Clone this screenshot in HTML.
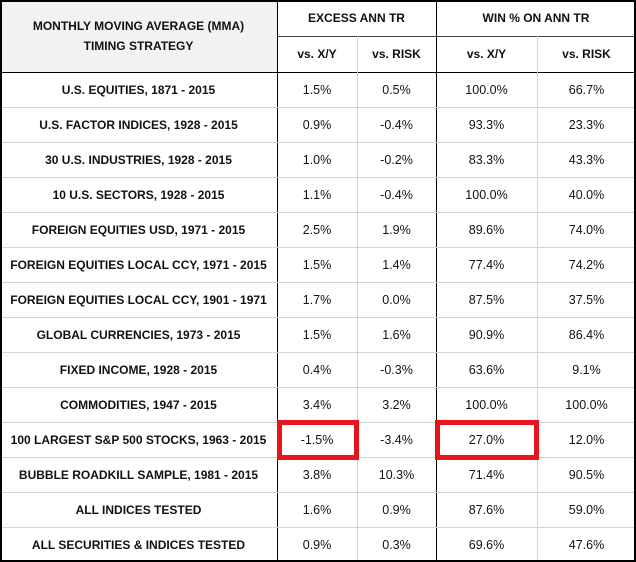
<!DOCTYPE html>
<html><head><style>
body{margin:0;background:#fff;}
#w{position:relative;width:636px;height:562px;overflow:hidden;font-family:"Liberation Sans",sans-serif;}
.c{position:absolute;display:flex;align-items:center;justify-content:center;text-align:center;color:#111;white-space:nowrap;}
.b{font-weight:bold;font-size:12px;}
.n{font-size:12.5px;}
.h{position:absolute;height:1px;background:#d4d4d4;}
.v{position:absolute;width:1px;background:#d4d4d4;}
.k{background:#000;}
.r{position:absolute;border:5px solid #e8141b;box-sizing:border-box;}
</style></head><body><div id="w">
<div style="position:absolute;left:0;top:0;width:277px;height:72px;background:#f2f2f2"></div>
<div class="c b" style="left:0;top:8px;width:277px;height:56px;line-height:20px">MONTHLY MOVING AVERAGE (MMA)<br>TIMING STRATEGY</div>
<div class="c b" style="left:277px;top:0;width:159px;height:36px">EXCESS ANN TR</div>
<div class="c b" style="left:436px;top:0;width:200px;height:36px">WIN % ON ANN TR</div>
<div class="c b" style="left:277px;top:36px;width:80px;height:36px">vs. X/Y</div>
<div class="c b" style="left:357px;top:36px;width:79px;height:36px">vs. RISK</div>
<div class="c b" style="left:436px;top:36px;width:101px;height:36px">vs. X/Y</div>
<div class="c b" style="left:537px;top:36px;width:99px;height:36px">vs. RISK</div>
<div class="h" style="left:277px;top:36px;width:359px;background:#444"></div>
<div class="h k" style="left:0;top:72px;width:636px"></div>
<div class="v k" style="left:277px;top:0;height:562px"></div>
<div class="v k" style="left:436px;top:0;height:562px"></div>
<div class="v" style="left:357px;top:36px;height:526px"></div>
<div class="v" style="left:537px;top:36px;height:526px"></div>
<div id="rows"></div>
<div class="r" style="left:277px;top:420px;width:82px;height:40px"></div>
<div class="r" style="left:435px;top:420px;width:104px;height:40px"></div>
<div style="position:absolute;left:0;top:0;width:636px;height:562px;border:2px solid #000;box-sizing:border-box"></div>
</div>
<script>
var d=[["U.S. EQUITIES, 1871 - 2015","1.5%","0.5%","100.0%","66.7%"],
["U.S. FACTOR INDICES, 1928 - 2015","0.9%","-0.4%","93.3%","23.3%"],
["30 U.S. INDUSTRIES, 1928 - 2015","1.0%","-0.2%","83.3%","43.3%"],
["10 U.S. SECTORS, 1928 - 2015","1.1%","-0.4%","100.0%","40.0%"],
["FOREIGN EQUITIES USD, 1971 - 2015","2.5%","1.9%","89.6%","74.0%"],
["FOREIGN EQUITIES LOCAL CCY, 1971 - 2015","1.5%","1.4%","77.4%","74.2%"],
["FOREIGN EQUITIES LOCAL CCY, 1901 - 1971","1.7%","0.0%","87.5%","37.5%"],
["GLOBAL CURRENCIES, 1973 - 2015","1.5%","1.6%","90.9%","86.4%"],
["FIXED INCOME, 1928 - 2015","0.4%","-0.3%","63.6%","9.1%"],
["COMMODITIES, 1947 - 2015","3.4%","3.2%","100.0%","100.0%"],
["100 LARGEST S&amp;P 500 STOCKS, 1963 - 2015","-1.5%","-3.4%","27.0%","12.0%"],
["BUBBLE ROADKILL SAMPLE, 1981 - 2015","3.8%","10.3%","71.4%","90.5%"],
["ALL INDICES TESTED","1.6%","0.9%","87.6%","59.0%"],
["ALL SECURITIES &amp; INDICES TESTED","0.9%","0.3%","69.6%","47.6%"]];
var xs=[[0,277],[277,80],[357,79],[436,101],[537,99]],h="";
d.forEach(function(r,i){var t=72+i*35;
if(i>0)h+='<div class="h" style="left:0;top:'+t+'px;width:636px"></div>';
r.forEach(function(s,j){h+='<div class="c '+(j?'n':'b')+'" style="left:'+xs[j][0]+'px;top:'+t+'px;width:'+xs[j][1]+'px;height:35px">'+s+'</div>';});});
document.getElementById('rows').outerHTML=h;
</script>
</body></html>
